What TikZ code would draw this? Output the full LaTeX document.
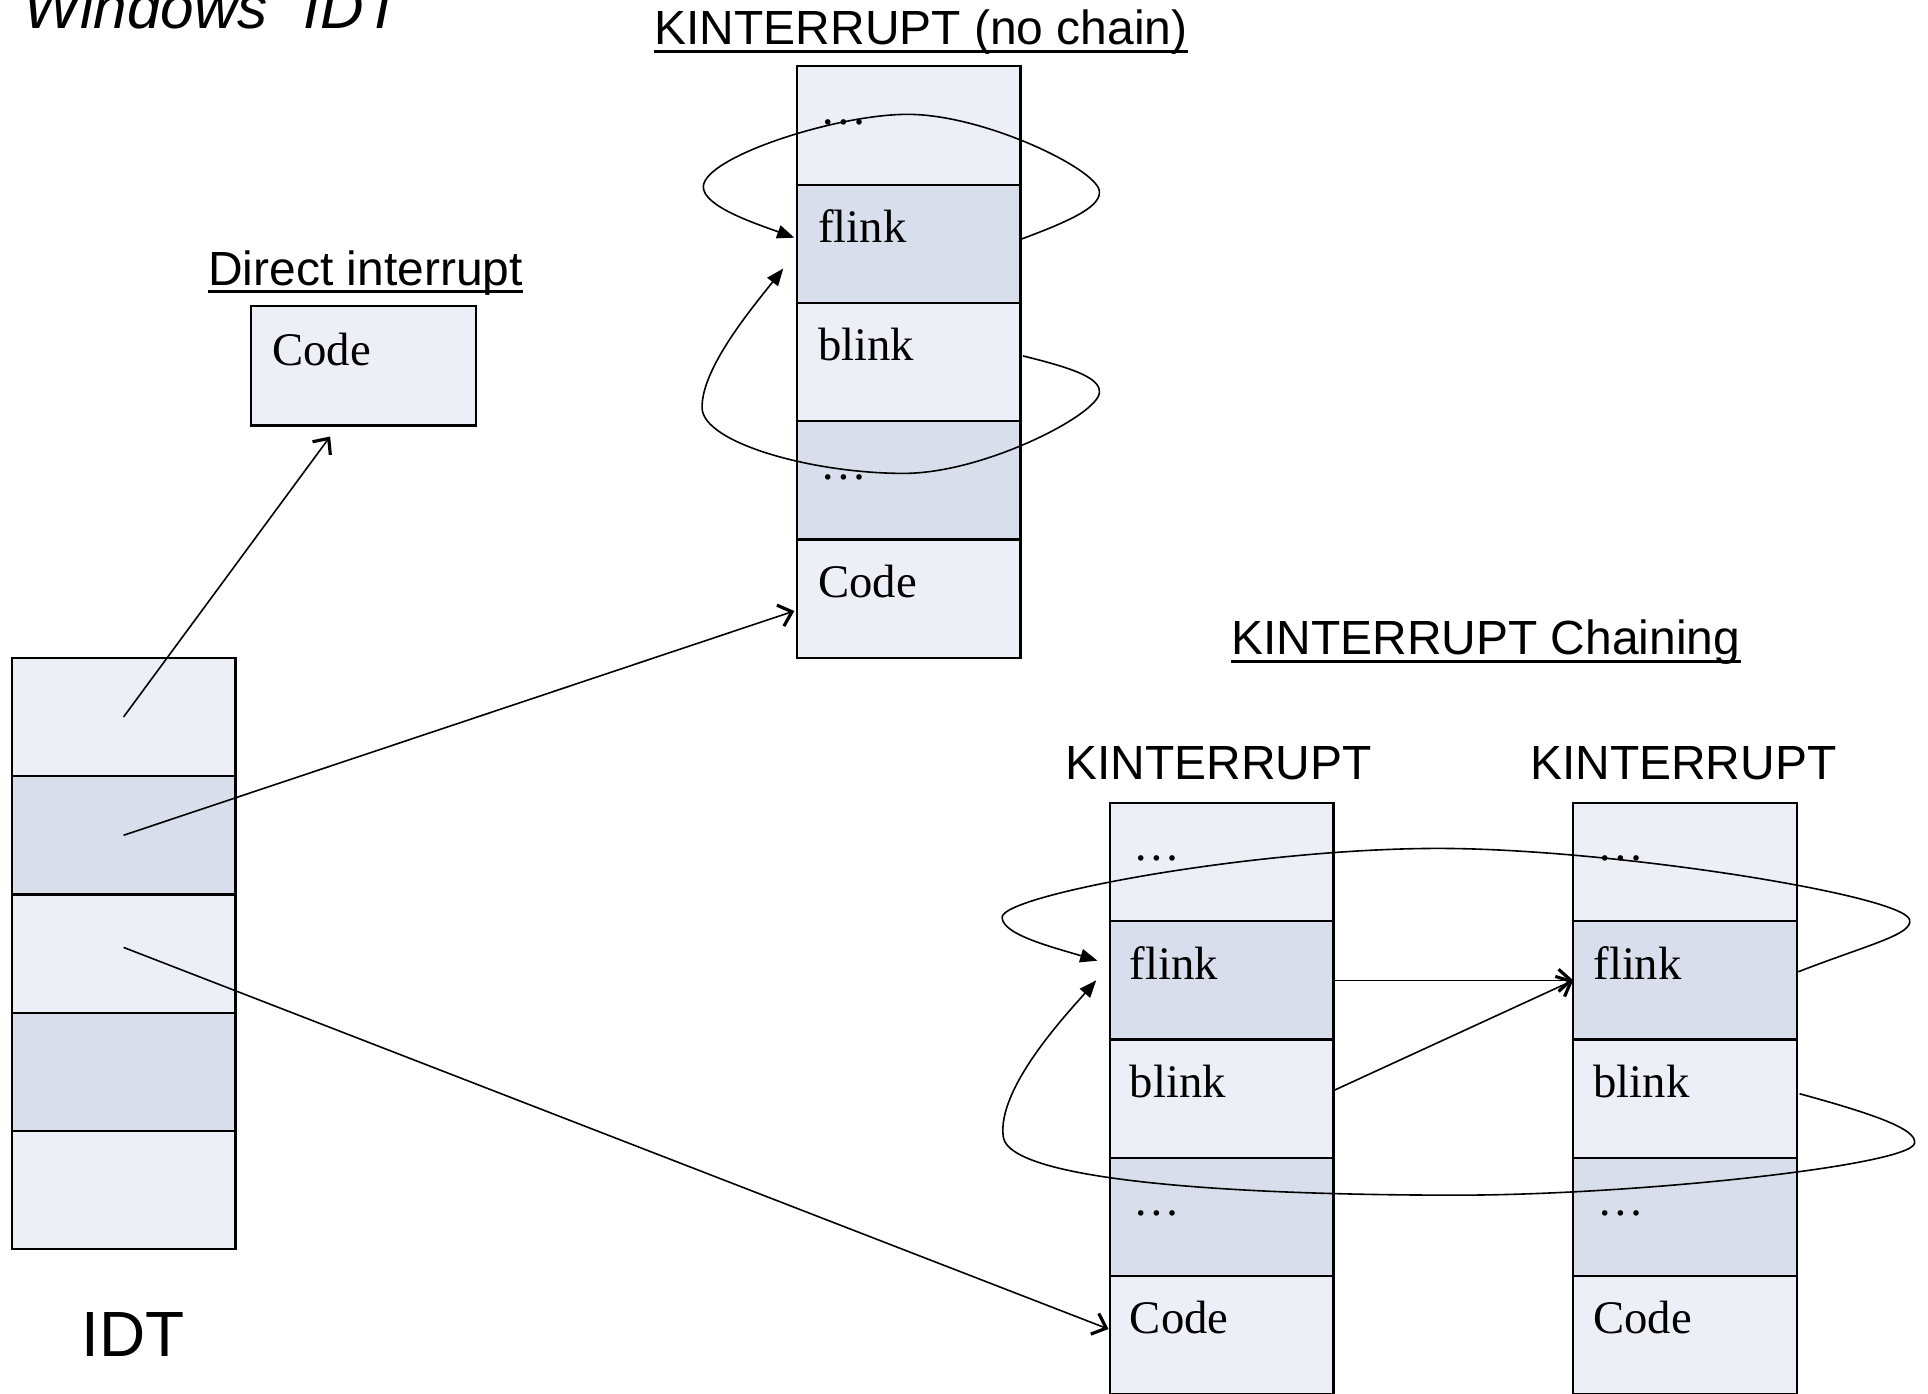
\documentclass[tikz,border=0pt]{standalone}
\usepackage{fontspec}
\setmainfont{Liberation Serif}
\setsansfont{Liberation Sans}
\usetikzlibrary{arrows.meta,calc}

\definecolor{celllight}{HTML}{ECEFF5}
\definecolor{celldark}{HTML}{D9DEEC}

\begin{document}
\begin{tikzpicture}[x=0.5pt,y=-0.5pt,
  cell/.style={draw=black, line width=0.9pt, minimum width=91pt, minimum height=48.1pt,
               inner sep=0pt, outer sep=0pt},
  lt/.style={cell, fill=celllight},
  dk/.style={cell, fill=celldark},
  field/.style={anchor=base west, inner sep=0pt, font=\fontsize{19pt}{23pt}\selectfont},
  caption/.style={anchor=base west, inner sep=0pt, font=\sffamily\fontsize{19.5pt}{23pt}\selectfont},
  uline/.style={line width=1.3pt},
  ptr/.style={line width=0.65pt, -{Straight Barb[length=5pt,width=9pt,line width=1.3pt]}},
  lnk/.style={line width=0.65pt, -{Triangle[length=7pt,width=5.5pt]}},
]
\useasboundingbox (0,0) rectangle (1568,1133);
\clip (0,0) rectangle (1568,1133);

% ---- titles ----
\node[anchor=base west, inner sep=0pt, font=\sffamily\itshape\fontsize{24.5pt}{29pt}\selectfont]
  (title) at (19,23) {Windows\hspace{0.6em}IDT};

\node[caption] (cdirect) at (169,232) {Direct interrupt};
\draw[uline] ($(cdirect.base west)+(0,5)$) -- ($(cdirect.base east)+(0,5)$);

\node[caption] (cnochain) at (532,36) {KINTERRUPT (no chain)};
\draw[uline] ($(cnochain.base west)+(0,6)$) -- ($(cnochain.base east)+(0,6)$);

\node[caption] (cchain) at (1001,532) {KINTERRUPT Chaining};
\draw[uline] ($(cchain.base west)+(0,6)$) -- ($(cchain.base east)+(0,6)$);

\node[caption] (ka) at (866,634) {KINTERRUPT};
\node[caption] (kb) at (1244,634) {KINTERRUPT};

\node[anchor=base, inner sep=0pt, font=\sffamily\fontsize{26pt}{31pt}\selectfont]
  (idtlabel) at (108.5,1103) {IDT};

% ---- direct interrupt code block ----
\node[lt, minimum width=91.5pt, minimum height=48.5pt] (Dc) at (295.5,297.5) {};
\node[field] (Dct) at ($(Dc.north west)+(17,48)$) {Code};

% ---- IDT table ----
\foreach \k/\s in {1/lt,2/dk,3/lt,4/dk,5/lt}
  \node[\s] (I\k) at (100.5,{535+48.1+96.2*(\k-1)}) {};

% ---- KINTERRUPT without chaining ----
\foreach \k/\s in {1/lt,2/dk,3/lt,4/dk,5/lt}
  \node[\s] (T\k) at (739,{54+48.1+96.2*(\k-1)}) {};
\node[field] (T1t) at ($(T1.north west)+(19,47)$) {…};
\node[field] (T2t) at ($(T2.north west)+(17,47)$) {flink};
\node[field] (T3t) at ($(T3.north west)+(17,47)$) {blink};
\node[field] (T4t) at ($(T4.north west)+(19,47)$) {…};
\node[field] (T5t) at ($(T5.north west)+(17,47)$) {Code};

% ---- chained KINTERRUPT objects ----
\foreach \c/\x in {A/993.5,B/1370.5}{
  \foreach \k/\s in {1/lt,2/dk,3/lt,4/dk,5/lt}
    \node[\s] (\c\k) at (\x,{653+48.1+96.2*(\k-1)}) {};
}
\foreach \c in {A,B}{
  \node[field] (\c1t) at ($(\c1.north west)+(19,47)$) {…};
  \node[field] (\c2t) at ($(\c2.north west)+(16,47)$) {flink};
  \node[field] (\c3t) at ($(\c3.north west)+(16,47)$) {blink};
  \node[field] (\c4t) at ($(\c4.north west)+(19,47)$) {…};
  \node[field] (\c5t) at ($(\c5.north west)+(16,47)$) {Code};
}

% ---- arrow end points ----
\coordinate (dtip)  at ($(Dc.south)+(-27,9)$);
\coordinate (ttip)  at ($(T5.west)+(-2,10)$);
\coordinate (atip)  at ($(A5.west)+(-1,-5)$);
\coordinate (ftip)  at ($(T2.west)+(-2,-5)$);
\coordinate (btip)  at ($(T2.south west)+(-11,-28)$);
\coordinate (aftip) at ($(A2.west)+(-10,-16)$);
\coordinate (abtip) at ($(A2.west)+(-11,0)$);
\coordinate (ablink) at ($(A3.east)+(1,-7)$);

% ---- IDT entries ----
\draw[ptr] (I1.center) -- (dtip);
\draw[ptr] (I2.center) -- (ttip);
\draw[ptr] (I3.center) ++(0,-5) -- (atip);

% ---- self links, single object ----
\draw[lnk] ($(T2.east)+(1,-4)$) .. controls (875,178) and (896,167) .. (894,155)
  .. controls (891,137) and (800,93) .. (738,93)
  .. controls (680,93) and (572,128) .. (572,152)
  .. controls (572,168) and (615,182) .. (ftip);
\draw[lnk] ($(T3.east)+(2,-5)$) .. controls (875,300) and (896,308) .. (894,320)
  .. controls (891,338) and (800,385) .. (735,385)
  .. controls (660,385) and (572,360) .. (571,332)
  .. controls (570,300) and (612,250) .. (btip);

% ---- chained objects ----
\draw[ptr] (A2.east) -- (B2.west);
\draw[ptr] (ablink) -- (B2.west);
\draw[lnk] ($(B2.east)+(1,-7)$) .. controls (1520,768) and (1556,760) .. (1553,748)
  .. controls (1548,728) and (1310,690) .. (1170,690)
  .. controls (1020,690) and (815,728) .. (815,746)
  .. controls (815,760) and (855,770) .. (aftip);
\draw[lnk] ($(B3.east)+(2,-4)$) .. controls (1520,905) and (1560,918) .. (1557,930)
  .. controls (1552,948) and (1330,972) .. (1185,972)
  .. controls (1000,972) and (822,960) .. (816,925)
  .. controls (810,885) and (870,822) .. (abtip);
\end{tikzpicture}
\end{document}
